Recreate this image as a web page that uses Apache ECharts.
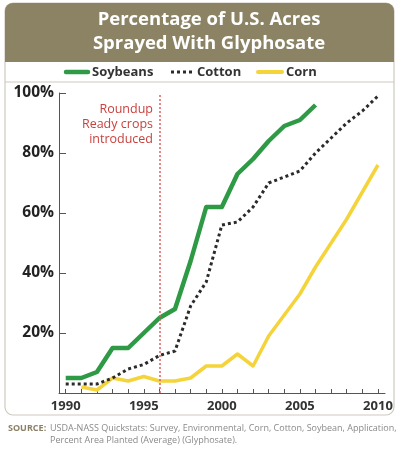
<!DOCTYPE html>
<html><head><meta charset="utf-8">
<script src="https://cdn.jsdelivr.net/npm/echarts@6/dist/echarts.min.js"></script>
<style>html,body{margin:0;padding:0;background:#fff}#c{width:400px;height:454px}</style>
</head><body><div id="c"></div>
<script>
const years = [1990,1991,1992,1993,1994,1995,1996,1997,1998,1999,2000,2001,2002,2003,2004,2005,2006,2007,2008,2009,2010];
const soybeans = [5,5,7,15,15,20,25,28,44,62,62,73,78,84,89,91,96,null,null,null,null];
const cotton = [3,3,3,5,8,9.5,12.5,14,29,37,56,57,62,70,72,74,80,85,90,94,99];
const corn = [null,2,1,5,4,5.5,4,4,5,9,9,13,9,19,26,33,42,50,58,67,76];
const labelYears = [1990,1995,2000,2005,2010];
const yTicks = [0,20,40,60,80,100];
const introYear = 1996;
const seriesNames = ['Soybeans','Cotton','Corn'];
const colors = {Soybeans:'#2e9a46', Cotton:'#2b2b2b', Corn:'#f4d43a'};

const pairs = arr => years.map((y,i)=>[y,arr[i]]);
const F = '"Open Sans", "Noto Sans", sans-serif';
const chart = echarts.init(document.getElementById('c'), null, {renderer:'canvas'});
const legendFont = 'bold 13px '+F;
const srcFont = '9px '+F;
chart.setOption({
  animation:false,
  textStyle:{fontFamily:F},
  graphic:[
    {type:'rect', shape:{x:5,y:3,width:389,height:412,r:8}, style:{fill:'#fff', stroke:'#cfcac0', lineWidth:1.2}, z:-10},
    {type:'rect', shape:{x:5,y:3,width:389,height:59,r:[8,8,0,0]}, style:{fill:'#8b8364'}, z:-9},
    {type:'line', shape:{x1:5,y1:82,x2:394,y2:82}, style:{stroke:'#cfcac0', lineWidth:1.2}, z:-9},
    {type:'text', x:209, y:20, style:{text:'Percentage of U.S. Acres', fill:'#fff', font:'bold 18.5px '+F, align:'center', verticalAlign:'middle'}},
    {type:'text', x:209, y:44, style:{text:'Sprayed With Glyphosate', fill:'#fff', font:'bold 18.5px '+F, align:'center', verticalAlign:'middle'}},
    // legend
    {type:'line', shape:{x1:66,y1:72,x2:88,y2:72}, style:{stroke:colors.Soybeans, lineWidth:4.5, lineCap:'round'}},
    {type:'text', x:92, y:72, style:{text:seriesNames[0], fill:'#333', font:legendFont, verticalAlign:'middle'}},
    {type:'line', shape:{x1:171,y1:72,x2:194,y2:72}, style:{stroke:colors.Cotton, lineWidth:3, lineDash:[3,3]}},
    {type:'text', x:197, y:72, style:{text:seriesNames[1], fill:'#333', font:legendFont, verticalAlign:'middle'}},
    {type:'line', shape:{x1:258,y1:72,x2:282,y2:72}, style:{stroke:colors.Corn, lineWidth:4, lineCap:'round'}},
    {type:'text', x:286, y:72, style:{text:seriesNames[2], fill:'#333', font:legendFont, verticalAlign:'middle'}},
    {type:'text', x:153, y:102, style:{text:'Roundup\nReady crops\nintroduced', fill:'#c9403c', font:'12.5px '+F, align:'right', verticalAlign:'top', lineHeight:15}},
    {type:'text', x:8, y:424, style:{text:'SOURCE:', fill:'#8b7f66', font:'bold '+srcFont, verticalAlign:'top'}},
    {type:'text', x:50, y:424, style:{text:'USDA-NASS Quickstats: Survey, Environmental, Corn, Cotton, Soybean, Application,', fill:'#8a8a8a', font:srcFont, verticalAlign:'top'}},
    {type:'text', x:50, y:436, style:{text:'Percent Area Planted (Average) (Glyphosate).', fill:'#8a8a8a', font:srcFont, verticalAlign:'top'}}
  ],
  grid:{left:59, right:15, top:93, bottom:61, containLabel:false},
  xAxis:{
    type:'value', min:1989.57, max:2010.45,
    axisLine:{lineStyle:{color:'#555', width:1}},
    axisTick:{inside:true, length:4, lineStyle:{color:'#555'}, customValues:years},
    axisLabel:{customValues:labelYears, formatter:v=>String(v), fontFamily:F, fontWeight:'bold', fontSize:13, color:'#333', margin:7},
    splitLine:{show:false}
  },
  yAxis:{
    type:'value', min:0, max:100, interval:20,
    axisLine:{show:true, lineStyle:{color:'#555', width:1}},
    axisTick:{show:true, inside:true, length:7, lineStyle:{color:'#555'}},
    axisLabel:{formatter:v=> v===0?'':v+'%', fontFamily:F, fontWeight:'bold', fontSize:15.5, color:'#222', margin:5},
    splitLine:{show:false}
  },
  series:[
    {name:seriesNames[0], type:'line', data:pairs(soybeans), symbol:'none', connectNulls:false,
      lineStyle:{color:colors.Soybeans, width:4.5, join:'round'}, itemStyle:{color:colors.Soybeans}, z:4,
      markLine:{silent:true, symbol:'none', label:{show:false},
        lineStyle:{color:'#e35b5b', type:[2,2], width:1.5}, data:[{xAxis:introYear}]}},
    {name:seriesNames[1], type:'line', data:pairs(cotton), symbol:'none',
      lineStyle:{color:colors.Cotton, width:3, type:[3,3]}, itemStyle:{color:colors.Cotton}, z:3},
    {name:seriesNames[2], type:'line', data:pairs(corn), symbol:'none',
      lineStyle:{color:colors.Corn, width:3.5, join:'round'}, itemStyle:{color:colors.Corn}, z:2}
  ]
});
</script></body></html>
